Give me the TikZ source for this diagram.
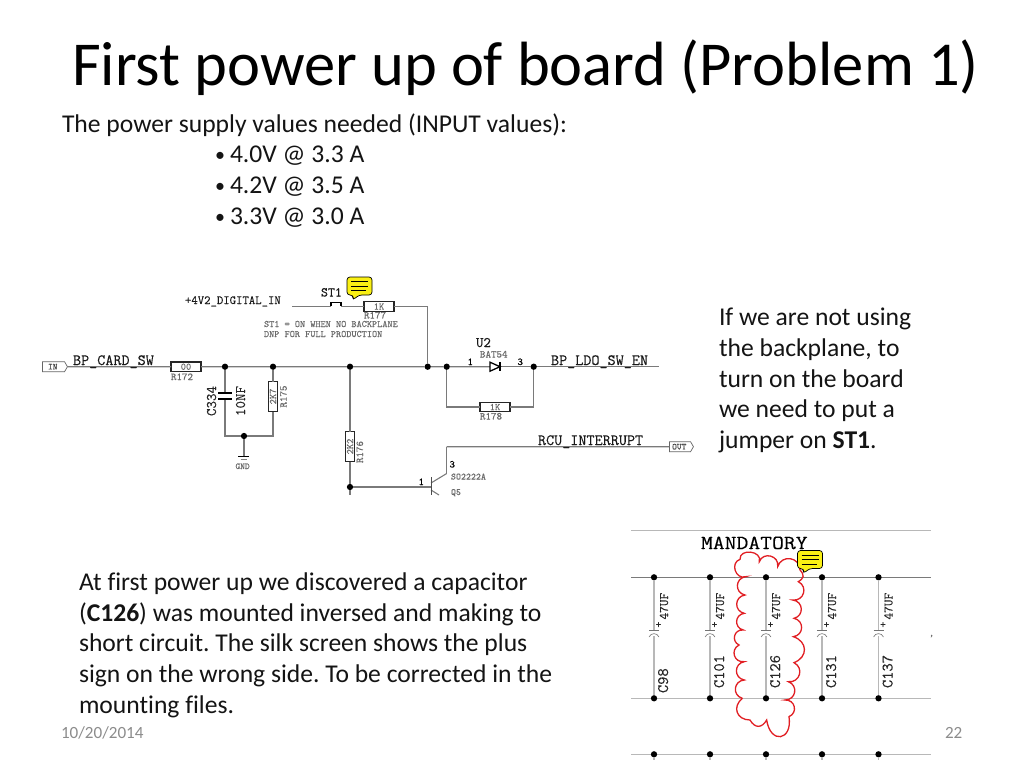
\documentclass[tikz,border=0pt]{standalone}
\usepackage{fontspec}
\setmainfont{Carlito}[RawFeature=-liga]
\setmonofont{Latin Modern Mono}[FakeBold=0.2]
\usetikzlibrary{shapes.symbols}
\frenchspacing
\definecolor{wire}{gray}{0.48}
\definecolor{lightwire}{gray}{0.72}
\definecolor{smalltxt}{gray}{0.42}
\definecolor{noteyellow}{RGB}{250,240,20}
\definecolor{cloudred}{RGB}{225,30,35}
\newcommand{\fs}[1]{\fontsize{#1}{#1}\selectfont}
\newcommand{\blt}{\makebox[15pt][l]{\raisebox{1pt}{\fs{20}•}}}
\newcommand{\noteicon}[2]{%
  \begin{scope}[shift={(#1,#2)}]
    \draw[black,line width=.7pt,fill=noteyellow,rounded corners=3pt] (0,0) -- (25,0) -- (25,18) -- (12,18) -- (6,23) -- (6,18) -- (0,18) -- cycle;
    \draw[black,line width=1pt] (4,4.5) -- (21,4.5) (4,9) -- (21,9) (4,13.5) -- (19,13.5);
  \end{scope}}
\tikzset{
  every node/.style={inner sep=0pt,outer sep=0pt},
  title/.style={anchor=base west,font=\fs{62.5}},
  body/.style={anchor=base west,font=\fs{25.6},text=black!92},
  foot/.style={anchor=base west,font=\fs{17.1},text=black!45},
  sch/.style={anchor=base west,font=\ttfamily\fs{15.7},text=black!90},
  tiny/.style={anchor=base west,font=\ttfamily\fs{9.8},text=smalltxt},
  wires/.style={draw=wire,line width=1.1pt},
  lwires/.style={draw=lightwire,line width=1.5pt},
  res/.style={draw=black!85,line width=1.3pt,fill=white,minimum width=30pt,minimum height=9.5pt,font=\ttfamily\fs{10},text=smalltxt},
  dotn/.style={circle,fill=black,minimum size=6.3pt},
  port/.style={draw=black!60,line width=.7pt,signal,signal to=east,signal pointer angle=120,minimum height=10pt,font=\ttfamily\bfseries\fs{9},text=black!75},
  rot/.style={rotate=90,anchor=base west},
  rotc/.style={rotate=90,anchor=base},
  capname/.style={rot,font=\ttfamily\fs{16},text=black!85},
  capval/.style={rot,font=\ttfamily\fs{13},text=black!85},
  cloud/.style={draw=cloudred,line width=1.3pt,looseness=1.5}
}
\begin{document}
\begin{tikzpicture}[x=1pt,y=-1pt]
\useasboundingbox (0,0) rectangle (1024,768);
\fill[white] (0,0) rectangle (1024,768);

\node[title] (ttl) at (72,85.5) {First power up of board (Problem 1)};
\node[body] (l0) at (62,132) {The power supply values needed (INPUT values):};
\node[body] (b1) at (215,162) {\blt 4.0V @ 3.3 A};
\node[body] (b2) at (215,193) {\blt 4.2V @ 3.5 A};
\node[body] (b3) at (215,224) {\blt 3.3V @ 3.0 A};

\node[body] (r1) at (719,325) {If we are not using};
\node[body] (r2) at (719,356) {the backplane, to};
\node[body] (r3) at (719,387) {turn on the board};
\node[body] (r4) at (719,417) {we need to put a};
\node[body] (r5) at (719,448) {jumper on \textbf{ST1}.};

\node[body] (t1) at (79,590) {At first power up we discovered a capacitor};
\node[body] (t2) at (79,621) {(\textbf{C126}) was mounted inversed and making to};
\node[body] (t3) at (79,651) {short circuit. The silk screen shows the plus};
\node[body] (t4) at (79,682) {sign on the wrong side. To be corrected in the};
\node[body] (t5) at (79,713) {mounting files.};

\node[foot] (date) at (61,738) {10/20/2014};
\node[foot] (page) at (945,738) {22};

% top schematic
\node[port,minimum width=25pt] (in) at (53.5,366.7) {IN\,};
\node[res] (r172) at (186,366.7) {};
\node[dotn] (j1) at (225,366.7) {};
\node[dotn] (j2) at (273,366.7) {};
\node[dotn] (j3) at (350,366.7) {};
\node[dotn] (j4) at (427.7,366.7) {};
\node[dotn] (j5) at (446.7,366.7) {};
\node[dotn] (j6) at (533.7,366.7) {};
\coordinate (end) at (659,366.7);
\node[res,rotate=90] (r175) at (273,396.5) {};
\node[res,rotate=90] (r176) at (350,446.5) {};
\node[res] (r177) at (379,306.5) {};
\node[res] (r178) at (495,407) {};
\node[dotn] (j7) at (244,436) {};
\node[dotn] (j8) at (350,487) {};
\coordinate (bl) at (225,436);
\coordinate (br) at (273,436);
\coordinate (cp1) at (225,393.3);
\coordinate (cp2) at (225,399.3);
\coordinate (gnd) at (244,456.5);
\coordinate (d1) at (490,366.7);
\coordinate (d2) at (500,366.7);
\coordinate (s0) at (292,306.5);
\coordinate (s1) at (331,306.5);
\coordinate (s2) at (341,306.5);
\coordinate (corner) at (427.7,306.5);
\coordinate (c178l) at (446.7,407);
\coordinate (c178r) at (533.7,407);
\coordinate (qb) at (431,487);
\coordinate (qc) at (446.7,473.5);
\coordinate (qc2) at (446.7,446.7);
\coordinate (stub) at (350,495);
\node[port,minimum width=24pt] (out) at (680,446.7) {OUT\,};

\draw[wires] (in) -- (r172) -- (j1) -- (j2) -- (j3) -- (j4) -- (j5) -- (d1);
\draw[wires] (d2) -- (j6) -- (end);
\draw[wires] (j1) -- (cp1);
\draw[wires] (cp2) -- (bl) -- (j7) -- (br) -- (r175) -- (j2);
\draw[wires] (j7) -- (gnd);
\draw[wires] (j3) -- (r176) -- (j8) -- (stub);
\draw[wires] (j8) -- (qb);
\draw[wires] (s0) -- (s1);
\draw[wires] (s2) -- (r177) -- (corner) -- (j4);
\draw[wires] (j5) -- (c178l) -- (r178) -- (c178r) -- (j6);
\draw[wires] (qc2) -- (out);
\draw[wires] (qc) -- (qc2);
\draw[wires] (431,483) -- (qc);
\draw[wires] (431,490) -- (439,495);
\draw[black!70,line width=1pt] (431,477) -- (431,495);
\node[rotate=90,font=\ttfamily\fs{10},text=smalltxt] (v175) at (273,396.5) {2K7};
\node[rotate=90,font=\ttfamily\fs{10},text=smalltxt] (v176) at (350,446.5) {2K2};
\node[font=\ttfamily\fs{10},text=smalltxt] (v00) at (186,366.7) {00};
\node[font=\ttfamily\fs{10},text=smalltxt] (v1k) at (379,306.5) {1K};
\node[font=\ttfamily\fs{10},text=smalltxt] (v1k2) at (495,407) {1K};

\draw[black,line width=1.7pt] (218,393.3) -- (232,393.3) (218,399.3) -- (232,399.3);
\draw[black,line width=1.7pt] (238,456.5) -- (249,456.5);
\draw[black!50,line width=.7pt] (240.5,459) -- (246.5,459);
\draw[black,line width=1.4pt] (331,306) -- (331,302.5) -- (341,302.5) -- (341,306);
\draw[black,line width=1.3pt,fill=white] (490,362.2) -- (d2) -- (490,371.2) -- cycle;
\draw[black,line width=1.7pt] (500,362) -- (500,371.4);

\node[sch] (lab1) at (73,365) {BP\_CARD\_SW};
\node[sch] (lab2) at (551,365) {BP\_LDO\_SW\_EN};
\node[sch] (lab3) at (538,445) {RCU\_INTERRUPT};
\node[sch,font=\ttfamily\bfseries\fs{12.4}] (lab4) at (185,304) {+4V2\_DIGITAL\_IN};
\node[sch,font=\ttfamily\fs{13.5}] (lab5) at (321,296.5) {ST1};
\node[sch,font=\ttfamily\fs{14.5}] (lab6) at (476,347) {U2};
\node[tiny] (n1) at (264,327) {ST1 = ON WHEN NO BACKPLANE};
\node[tiny] (n2) at (264,337) {DNP FOR FULL PRODUCTION};
\node[tiny,font=\ttfamily\fs{10.5}] (v172) at (171,380) {R172};
\node[tiny,font=\ttfamily\fs{10.5}] (v177) at (364,318.5) {R177};
\node[tiny,font=\ttfamily\fs{10.5}] (v178) at (480,419.5) {R178};
\node[tiny,font=\ttfamily\fs{10.5}] (v54) at (480,357.5) {BAT54};
\node[tiny,font=\ttfamily\fs{9}] (gndl) at (235.5,469) {GND};
\node[tiny,text=black,font=\ttfamily\fs{10.5}] (p1) at (467.5,365) {1};
\node[tiny,text=black,font=\ttfamily\fs{10.5}] (p3) at (517.5,365) {3};
\node[tiny,text=black,font=\ttfamily\bfseries\fs{10.5}] (p4) at (449.5,467.5) {3};
\node[tiny,text=black,font=\ttfamily\bfseries\fs{10.5}] (p5) at (418.5,485) {1};
\node[tiny,font=\ttfamily\fs{9.5}] (so) at (451,479.5) {SO2222A};
\node[tiny,font=\ttfamily\fs{9.5}] (q5) at (451,495) {Q5};
\node[rot,font=\ttfamily\fs{14.6},text=black!85] (c334) at (216,416) {C334};
\node[rot,font=\ttfamily\bfseries\fs{14.6},text=black!85] (nf) at (245,416) {10NF};
\node[rotc,font=\ttfamily\fs{10.5},text=smalltxt] (l175) at (286.7,396.5) {R175};
\node[rotc,font=\ttfamily\fs{10.5},text=smalltxt] (l176) at (363,452) {R176};

\noteicon{347}{277}

% bottom schematic
\coordinate (a0) at (631,530.7); \coordinate (a1) at (931,530.7);
\coordinate (b0) at (631,577.3); \coordinate (b1) at (931,577.3);
\coordinate (c0) at (631,698.3); \coordinate (c1) at (931,698.3);
\coordinate (e0) at (631,754.3); \coordinate (e1) at (931,754.3);
\draw[lwires] (a0) -- (a1);
\draw[wires] (b0) -- (b1);
\draw[lwires] (c0) -- (c1);
\draw[lwires] (e0) -- (e1);
\foreach \i/\x/\nm/\by in {1/654/C98/693,2/710/C101/688,3/766/C126/688,4/822/C131/688,5/878.5/C137/688}{
  \node[dotn] (t\i) at (\x,577.3) {};
  \node[dotn] (u\i) at (\x,698.3) {};
  \node[dotn] (w\i) at (\x,754.3) {};
  \coordinate (cpa\i) at (\x,630);
  \coordinate (cpb\i) at (\x,636);
  \coordinate (st\i) at (\x,759.5);
  \draw[lwires] (t\i) -- (cpa\i);
  \draw[lwires] (cpb\i) -- (u\i);
  \draw[lwires] (w\i) -- (st\i);
  \draw[black!55,line width=.6pt] (\x-5,630) -- (\x+5,630);
  \draw[black!55,line width=.6pt] (\x-5,637) .. controls (\x-3,632.5) and (\x+3,632.5) .. (\x+5,637);
  \node[capval] (val\i) at (\x+14,619.5) {47UF};
  \node[font=\ttfamily\fs{11},text=black!85] (plus\i) at (\x+4.5,625) {+};
  \node[capname] (nm\i) at (\x+14,\by) {\nm};
}
\node[sch,font=\ttfamily\fs{20},xscale=1.15,text=black] (mand) at (701,549) {MANDATORY};
\node[tiny] (stray) at (929,636) {,};

\begin{scope}[shift={(625,520)},x=.33333pt,y=-.33333pt]
\coordinate (k0) at (352,535);
\draw[cloud] (k0) to[bend left=80] (358,480) to[bend left=80] (358,425) to[bend left=80] (342,375)
 to[bend left=80] (355,330) to[bend left=80] (358,280) to[bend left=80] (360,225) to[bend left=80] (362,170)
 to[bend left=90] (345,118) to[bend left=100] (403,125) to[bend left=85] (458,140) to[bend left=80] (525,150)
 to[bend left=50] (520,185) to[bend left=80] (503,240) to[bend left=80] (507,295) to[bend left=80] (505,350)
 to[bend left=70] (507,428) to[bend left=80] (490,485) to[bend left=80] (480,540) to[bend left=80] (492,590)
 to[bend left=90,looseness=2.8] (425,600) to[bend left=60] (375,600) to[bend left=70] (k0);
\end{scope}
\noteicon{797.5}{550.5}
\end{tikzpicture}
\end{document}
